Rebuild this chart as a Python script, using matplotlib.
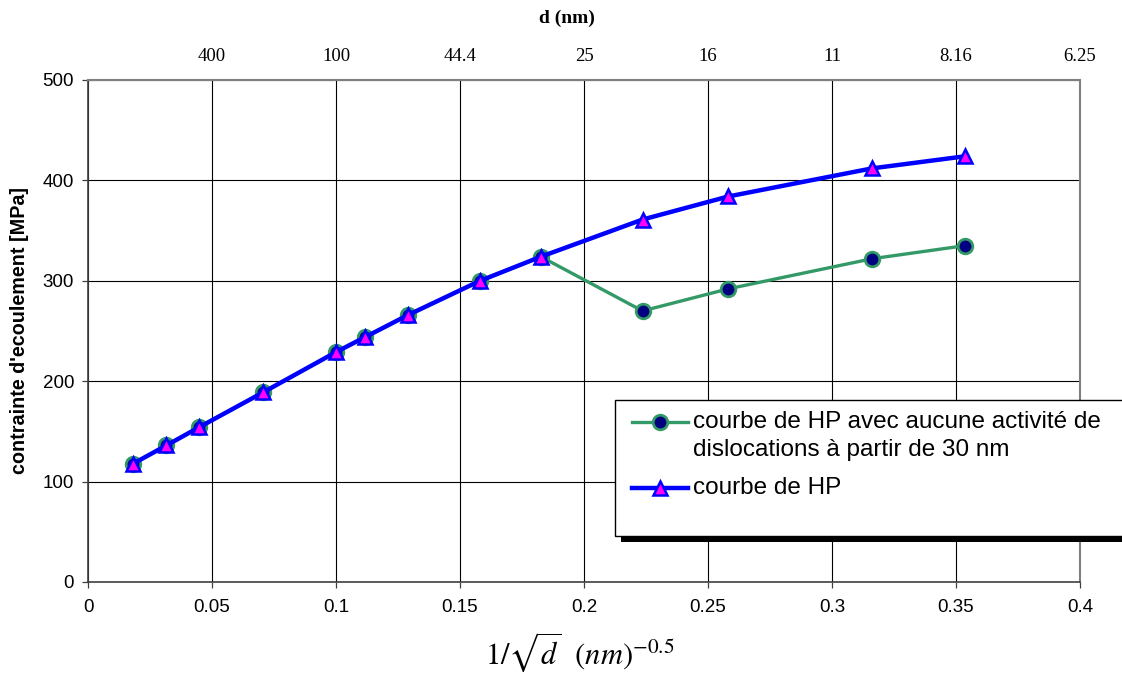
#!/usr/bin/env python3
"""Hall-Petch flow stress vs 1/sqrt(d), with grain size on the top axis."""

import matplotlib

matplotlib.use("Agg")
import matplotlib.pyplot as plt
from matplotlib.lines import Line2D
from matplotlib.patches import Rectangle

# 1/sqrt(d) for d = 3000, 1000, 500, 200, 100, 80, 60, 40, 30, 20, 15, 10, 8 nm
inv_sqrt_d = [0.0183, 0.0316, 0.0447, 0.0707, 0.1, 0.1118, 0.1291, 0.1581,
              0.1826, 0.2236, 0.2582, 0.3162, 0.3536]
hp_stress = [118, 136, 154, 189, 229, 244, 266, 300, 324, 361, 384, 412, 424]
hp_no_disloc = [118, 136, 154, 189, 229, 244, 266, 300, 324, 270, 292, 322, 335]

x_ticks = [0, 0.05, 0.1, 0.15, 0.2, 0.25, 0.3, 0.35, 0.4]
x_ticklabels = ["0", "0.05", "0.1", "0.15", "0.2", "0.25", "0.3", "0.35", "0.4"]
y_ticks = [0, 100, 200, 300, 400, 500]
top_ticks = [0.05, 0.1, 0.15, 0.2, 0.25, 0.3, 0.35, 0.4]
top_ticklabels = ["400", "100", "44.4", "25", "16", "11", "8.16", "6.25"]

label_green = "courbe de HP avec aucune activité de"
label_green2 = "dislocations à partir de 30 nm"
label_blue = "courbe de HP"

GREEN = "#339966"
NAVY = "#000080"
BLUE = "#0000ff"
MAGENTA = "#ff00ff"

W, H = 1122, 688

plt.rcParams["font.family"] = ["Liberation Sans", "DejaVu Sans"]
plt.rcParams["mathtext.fontset"] = "stix"

fig = plt.figure(figsize=(W / 100, H / 100), dpi=100)
ax = fig.add_axes([88 / W, 1 - 582 / H, (1080 - 88) / W, (582 - 80) / H])

ax.plot(inv_sqrt_d, hp_no_disloc, color=GREEN, linewidth=2.4, marker="o",
        markersize=10.5, markerfacecolor=NAVY, markeredgecolor=GREEN,
        markeredgewidth=2, zorder=3)
ax.plot(inv_sqrt_d, hp_stress, color=BLUE, linewidth=3.2, marker="^",
        markersize=9.5, markerfacecolor=MAGENTA, markeredgecolor=BLUE,
        markeredgewidth=1.8, zorder=4)

ax.set_xlim(0, 0.4)
ax.set_ylim(0, 500)
ax.set_xticks(x_ticks)
ax.set_xticklabels(x_ticklabels)
ax.set_yticks(y_ticks)
ax.tick_params(axis="both", labelsize=13.5, length=4, width=0.9,
               direction="out", color="#404040")
ax.tick_params(axis="x", pad=8)
ax.tick_params(axis="y", pad=6)
ax.grid(True, color="black", linewidth=0.8)
ax.set_axisbelow(True)
for side in ("left", "bottom"):
    ax.spines[side].set_color("#404040")
    ax.spines[side].set_linewidth(1.2)
for side in ("top", "right"):
    ax.spines[side].set_color("#808080")
    ax.spines[side].set_linewidth(1.5)

ax.set_ylabel("contrainte d'ecoulement [MPa]", fontsize=14.2,
              fontweight="bold", labelpad=10)

ax_top = ax.twiny()
ax_top.set_xlim(0, 0.4)
ax_top.set_xticks(top_ticks)
ax_top.set_xticklabels(top_ticklabels, fontfamily="Liberation Serif")
ax_top.tick_params(axis="x", length=0, labelsize=13.5, pad=11)
for side in ax_top.spines:
    ax_top.spines[side].set_visible(False)

fig.text(567 / W, 1 - 18 / H, "d (nm)", ha="center", va="center",
         fontsize=14, fontweight="bold", fontfamily="Liberation Serif")
fig.text(580 / W, 1 - 652 / H, r"$1/\sqrt{d}\ \ \left(nm\right)^{-0.5}$",
         ha="center", va="center", fontsize=22)

# legend box with the hard black shadow, drawn in figure pixels
to_fig = fig.transFigure
fig.add_artist(Rectangle((621 / W, 1 - 542 / H), 520 / W, 136 / H,
                         transform=to_fig, facecolor="black",
                         edgecolor="none", zorder=5))
fig.add_artist(Rectangle((615 / W, 1 - 536 / H), 520 / W, 136 / H,
                         transform=to_fig, facecolor="white",
                         edgecolor="black", linewidth=1.0, zorder=6))

entries = [
    (422, GREEN, 2.4, "o", NAVY, GREEN, 2, 10.5),
    (488, BLUE, 3.2, "^", MAGENTA, BLUE, 1.8, 9.5),
]
for y_px, lc, lw, mk, mfc, mec, mew, ms in entries:
    ys = [1 - y_px / H] * 3
    xs = [632 / W, 660 / W, 688 / W]
    fig.add_artist(Line2D(xs, ys, transform=to_fig, color=lc, linewidth=lw,
                          marker=mk, markevery=[1], markerfacecolor=mfc,
                          markeredgecolor=mec, markeredgewidth=mew,
                          markersize=ms, zorder=7))

fig.text(693 / W, 1 - 422 / H, label_green, ha="left", va="center",
         fontsize=17.5, zorder=7)
fig.text(693 / W, 1 - 450 / H, label_green2, ha="left", va="center",
         fontsize=17.5, zorder=7)
fig.text(693 / W, 1 - 488 / H, label_blue, ha="left", va="center",
         fontsize=17.5, zorder=7)

fig.savefig("out.png", dpi=100)
